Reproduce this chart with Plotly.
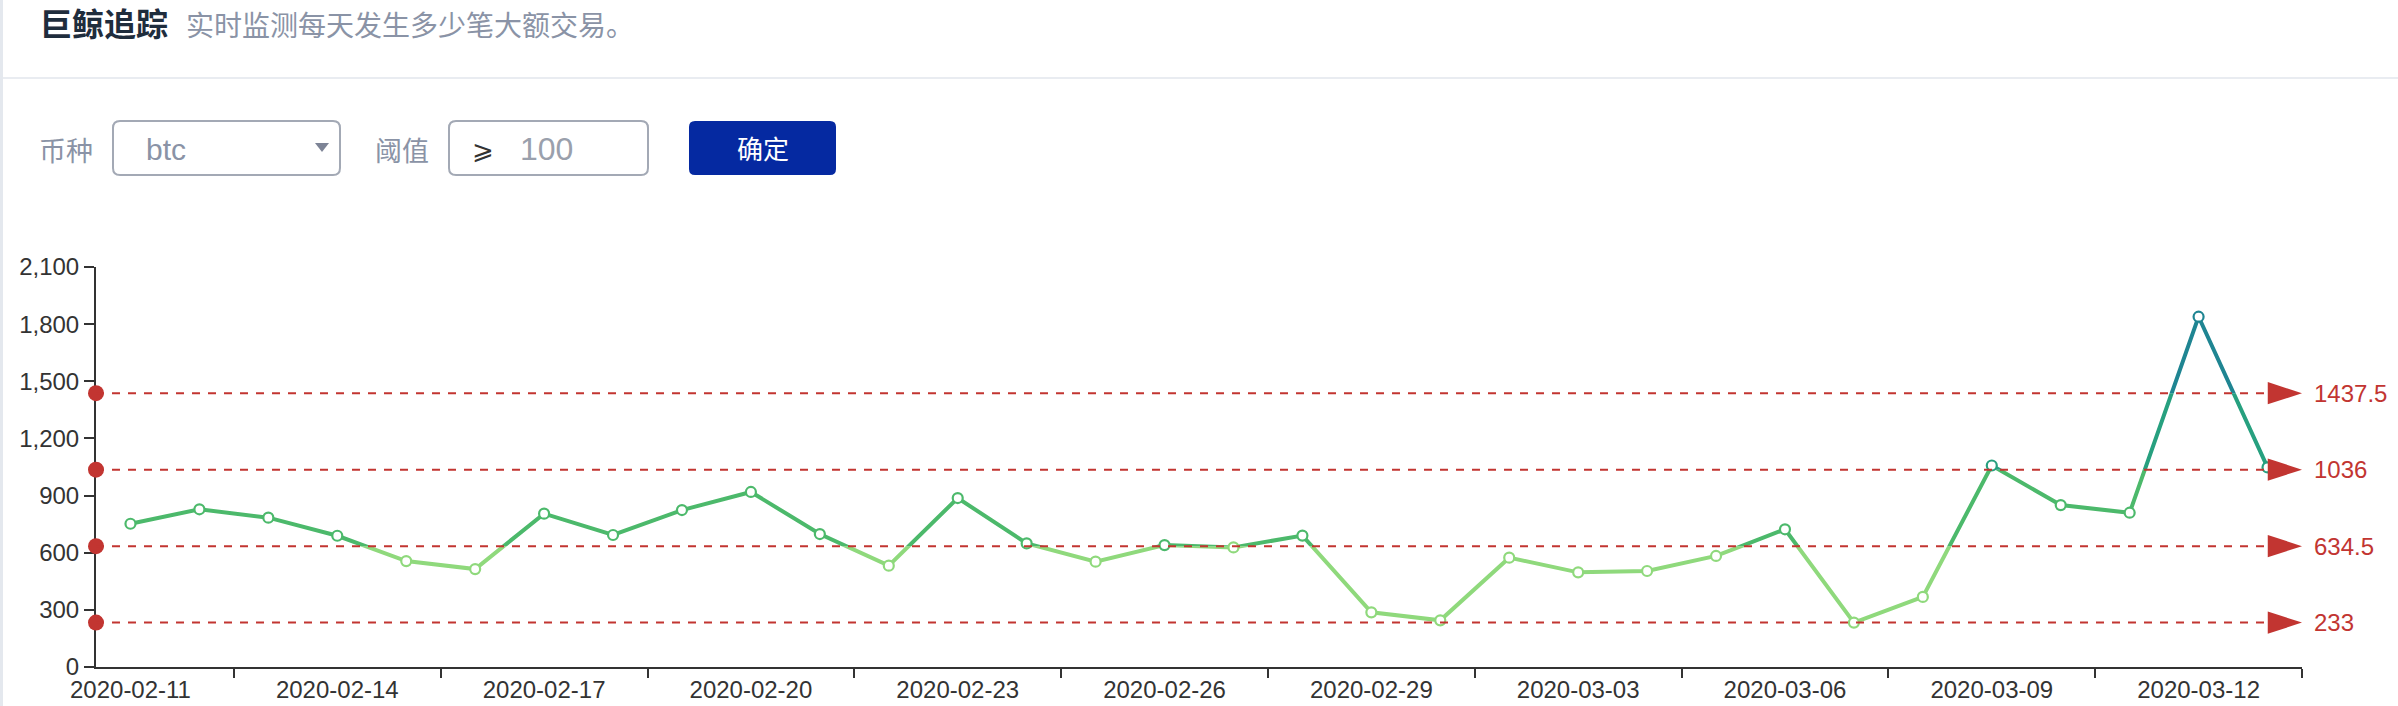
import plotly.graph_objects as go
import pandas as pd

# ---------------- data ----------------
dates = [
    "2020-02-11", "2020-02-12", "2020-02-13", "2020-02-14", "2020-02-15", "2020-02-16",
    "2020-02-17", "2020-02-18", "2020-02-19", "2020-02-20", "2020-02-21", "2020-02-22",
    "2020-02-23", "2020-02-24", "2020-02-25", "2020-02-26", "2020-02-27", "2020-02-28",
    "2020-02-29", "2020-03-01", "2020-03-02", "2020-03-03", "2020-03-04", "2020-03-05",
    "2020-03-06", "2020-03-07", "2020-03-08", "2020-03-09", "2020-03-10", "2020-03-11",
    "2020-03-12", "2020-03-13",
]
values = [
    752, 828, 784, 689, 556, 514,
    805, 693, 824, 919, 698, 532,
    887, 649, 553, 640, 628, 690,
    287, 245, 574, 497, 504, 583,
    723, 233, 368, 1058, 850, 810,
    1839, 1048,
]
threshold_values = [233, 634.5, 1036, 1437.5]
threshold_labels = ["233", "634.5", "1036", "1437.5"]
band_edges = [0, 634.5, 1036, 1437.5, 2100]
band_colors = ["#8fd97c", "#4cb96b", "#27a07f", "#1f8592"]
y_ticks = [0, 300, 600, 900, 1200, 1500, 1800, 2100]
label_dates = dates[::3]

title_text = "巨鲸追踪"
subtitle_text = "实时监测每天发生多少笔大额交易。"
coin_label = "币种"
coin_value = "btc"
threshold_label = "阈值"
threshold_sign = "⩾"
threshold_value = "100"
button_text = "确定"

# ---------------- geometry ----------------
W, H = 2398, 706
L, R, T, B = 96, 96, 267, 39
PW = W - L - R
PH = H - T - B
Y_MAX = 2100


def px(x):
    return (x - L) / PW


def py(y):
    return (H - B - y) / PH


def rounded(x0, y0, x1, y1, r):
    pts = [
        ("M", [(x0 + r, y0)]),
        ("L", [(x1 - r, y0)]),
        ("Q", [(x1, y0), (x1, y0 + r)]),
        ("L", [(x1, y1 - r)]),
        ("Q", [(x1, y1), (x1 - r, y1)]),
        ("L", [(x0 + r, y1)]),
        ("Q", [(x0, y1), (x0, y1 - r)]),
        ("L", [(x0, y0 + r)]),
        ("Q", [(x0, y0), (x0 + r, y0)]),
    ]
    s = ""
    for cmd, ps in pts:
        s += cmd + " ".join(f"{px(a):.6f},{py(b):.6f}" for a, b in ps) + " "
    return s + "Z"


dt = pd.to_datetime(dates)
x_start = dt[0] - pd.Timedelta(hours=12)
x_end = dt[-1] + pd.Timedelta(hours=12)

CJK = "Noto Sans CJK SC, sans-serif"
LAT = "Liberation Sans, Arial, sans-serif"
RED = "#c23531"

fig = go.Figure()

# band-clipped line traces (visual-map style colouring)
n_bands = len(band_colors)
for i in range(n_bands):
    fig.add_trace(go.Scatter(
        x=dates, y=values, mode="lines",
        line=dict(color=band_colors[i], width=4),
        xaxis="x", yaxis=f"y{i + 2}", hoverinfo="skip", showlegend=False,
    ))


def band_color(v):
    for i in range(n_bands):
        if band_edges[i] <= v < band_edges[i + 1]:
            return band_colors[i]
    return band_colors[-1]


top_axis = f"y{n_bands + 2}"
fig.add_trace(go.Scatter(
    x=dates, y=values, mode="markers",
    marker=dict(symbol="circle", size=10, color="white",
                line=dict(color=[band_color(v) for v in values], width=2.2)),
    xaxis="x", yaxis=top_axis, cliponaxis=False, showlegend=False,
))
# markLine start dots
fig.add_trace(go.Scatter(
    x=[x_start] * len(threshold_values), y=threshold_values, mode="markers",
    marker=dict(symbol="circle", size=16, color=RED),
    xaxis="x", yaxis=top_axis, cliponaxis=False, showlegend=False,
))
# markLine end arrows
fig.add_trace(go.Scatter(
    x=[x_end] * len(threshold_values), y=threshold_values, mode="markers",
    marker=dict(symbol="arrow", angle=90, size=36, color=RED),
    xaxis="x", yaxis=top_axis, cliponaxis=False, showlegend=False,
))

layout = dict(
    width=W, height=H,
    margin=dict(l=L, r=R, t=T, b=B, pad=0, autoexpand=False),
    paper_bgcolor="white", plot_bgcolor="rgba(0,0,0,0)",
    showlegend=False,
    xaxis=dict(
        type="date", range=[x_start, x_end], automargin=False,
        tickmode="array", tickvals=label_dates, ticktext=label_dates,
        ticks="", showline=True, linecolor="#333", linewidth=2,
        showgrid=False, zeroline=False,
        tickfont=dict(family=LAT, size=24, color="#333"),
        minor=dict(ticks="outside", ticklen=9, tickwidth=2, tickcolor="#333",
                   tick0=dt[1] + pd.Timedelta(hours=12), dtick=3 * 86400000,
                   showgrid=False),
        fixedrange=True,
    ),
    yaxis=dict(
        range=[0, Y_MAX], tickmode="array", tickvals=y_ticks, tickformat=",",
        automargin=False,
        ticks="outside", ticklen=10, tickwidth=2, tickcolor="#333",
        showline=True, linecolor="#333", linewidth=2,
        showgrid=False, zeroline=False,
        tickfont=dict(family=LAT, size=24, color="#333"),
        fixedrange=True,
    ),
)
for i in range(n_bands):
    lo, hi = band_edges[i], band_edges[i + 1]
    layout[f"yaxis{i + 2}"] = dict(domain=[lo / Y_MAX, hi / Y_MAX], range=[lo, hi],
                                   visible=False, anchor="x", fixedrange=True)
layout[f"yaxis{n_bands + 2}"] = dict(domain=[0, 1], range=[0, Y_MAX], visible=False,
                                     anchor="x", fixedrange=True)
fig.update_layout(**layout)

shapes = []
# mark lines
for v in threshold_values:
    shapes.append(dict(type="line", xref="paper", yref="y", x0=0, x1=px(2272), y0=v, y1=v,
                       line=dict(color=RED, width=2, dash="8px,8px"), layer="above"))
# left border & divider
shapes.append(dict(type="rect", xref="paper", yref="paper", x0=px(0), x1=px(3), y0=py(0), y1=py(H),
                   fillcolor="#e4e8ee", line=dict(width=0), layer="below"))
shapes.append(dict(type="line", xref="paper", yref="paper", x0=px(3), x1=px(W), y0=py(78), y1=py(78),
                   line=dict(color="#e9ecf1", width=2), layer="below"))
# select box, input box, button
shapes.append(dict(type="path", xref="paper", yref="paper", path=rounded(113, 121, 340, 175, 7),
                   fillcolor="white", line=dict(color="#a3a9b5", width=2)))
shapes.append(dict(type="path", xref="paper", yref="paper",
                   path=f"M{px(315)},{py(143)} L{px(329)},{py(143)} L{px(322)},{py(152)} Z",
                   fillcolor="#7d8496", line=dict(width=0)))
shapes.append(dict(type="path", xref="paper", yref="paper", path=rounded(449, 121, 648, 175, 7),
                   fillcolor="white", line=dict(color="#a3a9b5", width=2)))
shapes.append(dict(type="path", xref="paper", yref="paper", path=rounded(689, 121, 836, 175, 6),
                   fillcolor="#0529a1", line=dict(width=0)))
fig.update_layout(shapes=shapes)

ann = []
for v, t in zip(threshold_values, threshold_labels):
    ann.append(dict(xref="paper", yref="y", x=1, y=v, xshift=10, text=t, showarrow=False,
                    xanchor="left", yanchor="middle", font=dict(family=LAT, size=24, color=RED)))


def txt(x, y, text, size, color, family=CJK, anchor="left"):
    ann.append(dict(xref="paper", yref="paper", x=px(x), y=py(y), text=text, showarrow=False,
                    xanchor=anchor, yanchor="middle", font=dict(family=family, size=size, color=color)))


txt(38, 22, f"<b>{title_text}</b>", 32, "#1f2d3d")
txt(184, 24, subtitle_text, 28, "#8a93a6")
txt(37, 149, coin_label, 27, "#8a93a6")
txt(144, 149, coin_value, 30, "#8a93a6", LAT)
txt(373, 149, threshold_label, 27, "#8a93a6")
txt(470, 148, threshold_sign, 26, "#333", CJK)
txt(518, 149, threshold_value, 32, "#9aa0ac", LAT)
txt(763, 148, button_text, 26, "white", CJK, "center")
fig.update_layout(annotations=ann)

fig.write_html(
    "out.html",
    config={"displayModeBar": False, "staticPlot": False},
    post_script="document.body.style.margin='0px';document.body.style.overflow='hidden';",
)
